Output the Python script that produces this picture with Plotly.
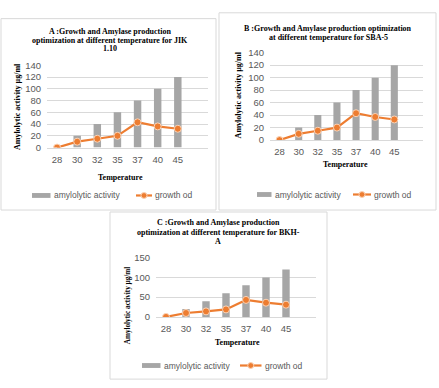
import plotly.graph_objects as go

W, H = 439, 388

temps = ["28", "30", "32", "35", "37", "40", "45"]
amylo_A = [0, 20, 40, 60, 80, 100, 120]
growth_A = [0, 10, 15, 20, 43, 36, 32]
amylo_B = [0, 20, 40, 60, 80, 100, 120]
growth_B = [0, 10, 15, 20, 43, 37, 33]
amylo_C = [0, 20, 40, 60, 80, 100, 120]
growth_C = [0, 10, 14, 19, 43, 36, 31]

titles_A = ["A :Growth and Amylase production",
            "optimization at different temperature for JIK", "1.10"]
titles_B = ["B :Growth and Amylase production optimization",
            "at different temperature for SBA-5"]
titles_C = ["C :Growth and Amylase production",
            "optimization at different temperature for BKH-", "A"]
ytitle = "Amylolytic activity µg/ml"
xtitle = "Temperature"
leg_bar = "amylolytic activity"
leg_line = "growth od"

BAR = "#a6a6a6"
ORANGE = "#ED7D31"
GRID = "#d9d9d9"
TXT = "#595959"
SERIF = "Liberation Serif"
SANS = "Liberation Sans"

def px(x):
    return x / W

def py(y):
    return 1 - y / H

fig = go.Figure()

panels = [
    dict(key="", amylo=amylo_A, growth=growth_A, titles=titles_A,
         box=(1, 13, 216, 210), xd=(47, 208), yd=(61, 145.7), yr=(0, 140), dt=20,
         tl=[(110, 26), (110, 35.5), (110, 44)], xt=(120, 177), yt=(17, 104), ytfs=8,
         leg=dict(bar=(32, 50.5), bt=52, line=(136, 152), lt=153, y=195)),
    dict(key="2", amylo=amylo_B, growth=growth_B, titles=titles_B,
         box=(219, 7, 436, 210), xd=(270, 423), yd=(48, 138), yr=(0, 140), dt=20,
         tl=[(328, 23), (328, 32)], xt=(345, 163), yt=(238, 92), ytfs=8,
         leg=dict(bar=(257, 271.5), bt=272.5, line=(353, 371), lt=372, y=194)),
    dict(key="3", amylo=amylo_C, growth=growth_C, titles=titles_C,
         box=(110, 212, 327, 384), xd=(156, 316), yd=(259, 320), yr=(0, 150), dt=50,
         tl=[(218, 223), (218, 233), (218, 242)], xt=(237, 346), yt=(128, 308), ytfs=7.2,
         leg=dict(bar=(142, 160.5), bt=161.5, line=(240, 261.5), lt=262.5, y=370)),
]

shapes = []
annotations = []

for p in panels:
    k = p["key"]
    xa = "x" + k
    ya = "y" + k
    fig.add_trace(go.Bar(x=temps, y=p["amylo"], xaxis=xa, yaxis=ya,
                         marker=dict(color=BAR, line=dict(width=0)),
                         width=0.37, showlegend=False, name=leg_bar))
    fig.add_trace(go.Scatter(x=temps, y=p["growth"], xaxis=xa, yaxis=ya,
                             mode="lines+markers", name=leg_line, showlegend=False,
                             line=dict(color=ORANGE, width=2.2),
                             marker=dict(color=ORANGE, size=7,
                                         line=dict(color="#fbd3b6", width=1))))
    xkey = "xaxis" + k
    ykey = "yaxis" + k
    fig.update_layout({
        xkey: dict(domain=[px(p["xd"][0]), px(p["xd"][1])], anchor=ya,
                   type="category", categoryorder="array", categoryarray=temps,
                   range=[-0.5, 7.5], showgrid=False, zeroline=False,
                   showline=True, linecolor=GRID, linewidth=1, ticks="",
                   tickfont=dict(family=SANS, size=9.5, color=TXT),
                   ticklabelstandoff=3, fixedrange=True),
        ykey: dict(domain=[py(p["yd"][1]), py(p["yd"][0])], anchor=xa,
                   range=list(p["yr"]), dtick=p["dt"], showgrid=True,
                   gridcolor=GRID, gridwidth=1, zeroline=False, showline=False,
                   ticks="", tickfont=dict(family=SANS, size=9.5, color=TXT),
                   ticklabelstandoff=5, fixedrange=True),
    })
    x0, y0, x1, y1 = p["box"]
    shapes.append(dict(type="rect", xref="paper", yref="paper",
                       x0=px(x0), x1=px(x1), y0=py(y1), y1=py(y0),
                       line=dict(color="#d9d9d9", width=1), fillcolor="rgba(0,0,0,0)",
                       layer="below"))
    for (tx, ty), t in zip(p["tl"], p["titles"]):
        annotations.append(dict(text=t, x=px(tx), y=py(ty), xref="paper", yref="paper",
                                xanchor="center", yanchor="middle", showarrow=False,
                                font=dict(family=SERIF, size=8, color="#000000"),
                                text_=None) if False else
                           dict(text="<b>" + t + "</b>", x=px(tx), y=py(ty), xref="paper",
                                yref="paper", xanchor="center", yanchor="middle",
                                showarrow=False,
                                font=dict(family=SERIF, size=8, color="#000000")))
    annotations.append(dict(text="<b>" + xtitle + "</b>", x=px(p["xt"][0]), y=py(p["xt"][1]),
                            xref="paper", yref="paper", xanchor="center", yanchor="middle",
                            showarrow=False, font=dict(family=SERIF, size=8, color="#000000")))
    annotations.append(dict(text="<b>" + ytitle + "</b>", x=px(p["yt"][0]), y=py(p["yt"][1]),
                            xref="paper", yref="paper", xanchor="center", yanchor="middle",
                            textangle=-90, showarrow=False,
                            font=dict(family=SERIF, size=p["ytfs"], color="#000000")))
    L = p["leg"]
    ly = L["y"]
    shapes.append(dict(type="rect", xref="paper", yref="paper",
                       x0=px(L["bar"][0]), x1=px(L["bar"][1]), y0=py(ly + 2.5), y1=py(ly - 2.5),
                       line=dict(width=0), fillcolor=BAR))
    annotations.append(dict(text=leg_bar, x=px(L["bt"]), y=py(ly), xref="paper", yref="paper",
                            xanchor="left", yanchor="middle", showarrow=False,
                            font=dict(family=SANS, size=8.5, color=TXT)))
    shapes.append(dict(type="line", xref="paper", yref="paper",
                       x0=px(L["line"][0]), x1=px(L["line"][1]), y0=py(ly), y1=py(ly),
                       line=dict(color=ORANGE, width=2.2)))
    cx = (L["line"][0] + L["line"][1]) / 2
    shapes.append(dict(type="circle", xref="paper", yref="paper",
                       x0=px(cx - 3), x1=px(cx + 3), y0=py(ly + 3), y1=py(ly - 3),
                       line=dict(color="#fbd3b6", width=1), fillcolor=ORANGE))
    annotations.append(dict(text=leg_line, x=px(L["lt"]), y=py(ly), xref="paper", yref="paper",
                            xanchor="left", yanchor="middle", showarrow=False,
                            font=dict(family=SANS, size=8.5, color=TXT)))

fig.update_layout(width=W, height=H, margin=dict(l=0, r=0, t=0, b=0),
                  paper_bgcolor="white", plot_bgcolor="white", showlegend=False,
                  bargap=0.6, shapes=shapes, annotations=annotations)

fig.write_html("out.html", config={"displayModeBar": False})
